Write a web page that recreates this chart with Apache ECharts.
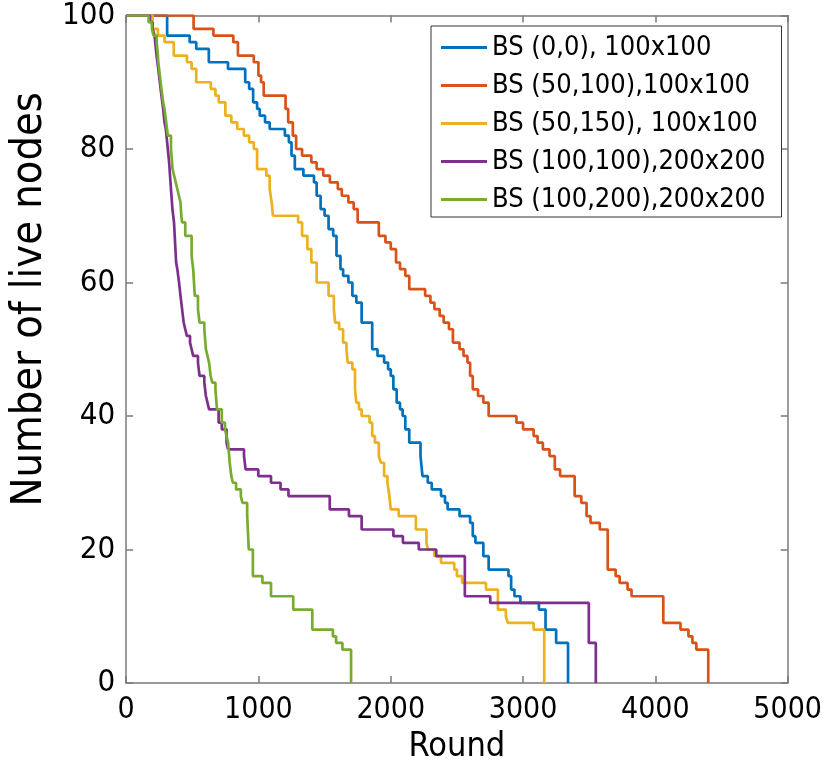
<!DOCTYPE html>
<html>
<head>
<meta charset="utf-8">
<script src="https://cdn.jsdelivr.net/npm/echarts@6/dist/echarts.min.js"></script>
<style>html,body{margin:0;padding:0;background:#fff}#c{width:825px;height:776px}</style>
</head>
<body>
<div id="c"></div>
<script>
// ---- data ----
const seriesNames = ["BS (0,0), 100x100", "BS (50,100),100x100", "BS (50,150), 100x100", "BS (100,100),200x200", "BS (100,200),200x200"];
const xTicks = [0, 1000, 2000, 3000, 4000, 5000];
const yTicks = [0, 20, 40, 60, 80, 100];

const blue = [[0,100],[310,97],[480,96],[530,95],[625,93],[770,92],[900,90],[930,89],[960,87],[990,86],[1010,85],[1050,84],[1085,83],[1200,82],[1230,81],[1250,79],[1275,77],[1340,76],[1420,75],[1440,73],[1470,71],[1500,70],[1530,68],[1565,67],[1590,64],[1620,62],[1640,61],[1680,60],[1710,58],[1740,57],[1780,54],[1860,50],[1900,49],[1950,48],[1980,47],[2000,46],[2020,44],[2045,42],[2070,41],[2090,40],[2110,38],[2140,36],[2225,34],[2240,31],[2280,30],[2310,29],[2380,28],[2410,27],[2430,26],[2520,25],[2600,24],[2620,22],[2640,21],[2700,19],[2740,17],[2890,16],[2910,14],[2935,13],[2980,12],[3120,11],[3170,8],[3250,6],[3340,0]];
const red = [[0,100],[510,98],[660,97],[810,96],[845,94],[965,93],[1000,91],[1020,90],[1040,88],[1205,86],[1225,84],[1260,82],[1285,80],[1330,79],[1400,78],[1440,77],[1490,76],[1540,75],[1600,74],[1630,73],[1680,72],[1720,71],[1750,69],[1910,67],[1960,66],[2000,65],[2040,63],[2070,62],[2110,61],[2140,59],[2260,58],[2300,57],[2330,56],[2370,55],[2400,54],[2440,53],[2470,51],[2520,50],[2550,49],[2580,48],[2600,46],[2620,44],[2660,43],[2700,42],[2740,40],[2950,39],[3000,38],[3080,37],[3110,36],[3150,35],[3200,34],[3240,32],[3280,31],[3390,28],[3440,27],[3480,25],[3510,24],[3580,23],[3640,17],[3700,16],[3730,15],[3790,14],[3820,13],[4060,9],[4190,8],[4250,7],[4280,6],[4310,5],[4400,0]];
const yellow = [[0,100],[200,98],[240,97],[290,96],[360,94],[460,93],[495,92],[530,90],[640,89],[675,88],[700,87],[750,85],[795,84],[840,83],[890,82],[930,81],[965,80],[990,77],[1060,76],[1085,74],[1100,72],[1110,70],[1300,69],[1330,67],[1370,65],[1400,63],[1440,60],[1530,58],[1570,56],[1580,54],[1610,53],[1640,51],[1665,50],[1675,48],[1710,47],[1730,44],[1740,42],[1760,41],[1780,40],[1840,39],[1860,37],[1880,36],[1910,34],[1925,33],[1950,31],[1975,30],[1990,28],[2000,26],[2060,25],[2190,23],[2270,21],[2280,20],[2330,19],[2380,18],[2480,17],[2500,16],[2540,15],[2720,14],[2810,11],[2870,10],[2885,9],[3080,8],[3160,0]];
const purple = [[0,100],[180,99],[200,98],[215,97],[230,94],[243,92],[255,90],[267,88],[280,86],[290,84],[300,83],[315,80],[325,78],[339,74],[350,71],[362,69],[370,66],[378,63],[387,62],[400,60],[411,58],[423,56],[435,54],[447,53],[459,52],[483,51],[495,50],[507,49],[543,48],[555,46],[591,45],[603,43],[615,42],[627,41],[699,39],[723,38],[759,36],[771,35],[891,34],[903,32],[999,31],[1095,30],[1167,29],[1227,28],[1539,26],[1684,25],[1780,23],[2020,22],[2092,21],[2212,20],[2344,19],[2560,13],[2752,12],[3497,6],[3550,0]];
const green = [[0,100],[170,99],[195,98],[207,97],[231,96],[240,94],[243,93],[255,91],[267,89],[280,87],[290,86],[303,84],[315,82],[339,80],[351,77],[363,76],[375,75],[387,74],[399,73],[411,72],[417,70],[423,69],[447,67],[495,64],[507,62],[519,58],[543,56],[555,54],[591,53],[603,50],[615,49],[627,48],[639,46],[651,45],[675,44],[687,41],[723,39],[747,38],[759,37],[771,36],[783,33],[795,31],[807,30],[831,29],[867,28],[879,27],[915,25],[927,20],[958,16],[1030,15],[1095,13],[1263,11],[1407,8],[1563,7],[1587,6],[1635,5],[1700,0]];

const colors = ["#0072BD", "#D95319", "#EDB120", "#7E2F8E", "#77AC30"];
const allData = [blue, red, yellow, purple, green];

const FONT = "'DejaVu Sans Condensed', 'Liberation Sans', Arial, sans-serif";
const axisCol = '#7a7a7a';

const chart = echarts.init(document.getElementById('c'), null, {renderer: 'canvas'});
const baseX = {
  type: 'value', min: 0, max: 5000, interval: 1000,
  axisLine: {show: true, onZero: false, lineStyle: {color: axisCol, width: 1.5}},
  axisTick: {show: true, inside: true, length: 7, lineStyle: {color: axisCol, width: 1.5}},
  splitLine: {show: false}
};
const baseY = {
  type: 'value', min: 0, max: 100, interval: 20,
  axisLine: {show: true, onZero: false, lineStyle: {color: axisCol, width: 1.5}},
  axisTick: {show: true, inside: true, length: 7, lineStyle: {color: axisCol, width: 1.5}},
  splitLine: {show: false}
};

chart.setOption({
  animation: false,
  backgroundColor: '#fff',
  color: colors,
  textStyle: {fontFamily: FONT},
  grid: {left: 103, right: 28, top: 11, bottom: 93, containLabel: false},
  xAxis: [
    Object.assign({}, baseX, {
      position: 'bottom',
      name: 'Round', nameLocation: 'middle', nameGap: 41,
      nameTextStyle: {fontSize: 34, color: '#000', fontFamily: FONT},
      axisLabel: {show: true, fontSize: 30, color: '#000', margin: 12, fontFamily: FONT,
        formatter: v => xTicks.includes(v) ? String(v) : ''}
    }),
    Object.assign({}, baseX, {position: 'top', axisLabel: {show: false}})
  ],
  yAxis: [
    Object.assign({}, baseY, {
      position: 'left',
      name: 'Number of live nodes', nameLocation: 'middle', nameGap: 64,
      nameTextStyle: {fontSize: 43, color: '#000', fontFamily: FONT, padding: [0, 0, 0, 100]},
      axisLabel: {show: true, fontSize: 31, color: '#000', margin: 11, fontFamily: FONT,
        formatter: v => yTicks.includes(v) ? String(v) : ''}
    }),
    Object.assign({}, baseY, {position: 'right', axisLabel: {show: false}})
  ],
  legend: {
    show: true,
    orient: 'vertical',
    left: 431, top: 26,
    padding: [8, 16, 4, 10],
    itemGap: 11,
    itemWidth: 46, itemHeight: 3,
    icon: 'rect',
    backgroundColor: '#fff',
    borderColor: '#333', borderWidth: 1,
    textStyle: {fontSize: 27, color: '#000', fontFamily: FONT, lineHeight: 25},
    data: seriesNames
  },
  series: allData.map((d, i) => ({
    name: seriesNames[i],
    type: 'line',
    step: 'end',
    data: d,
    showSymbol: false,
    symbol: 'none',
    lineStyle: {width: 2.7, color: colors[i]},
    itemStyle: {color: colors[i]},
    z: 2 + i
  }))
});
</script>
</body>
</html>
